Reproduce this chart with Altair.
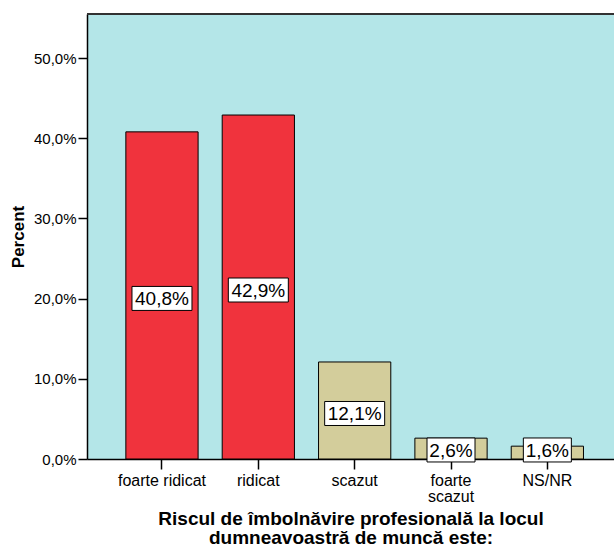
import altair as alt
import pandas as pd

# Survey answers: occupational disease risk at the workplace
categories = ["foarte ridicat", "ridicat", "scazut", "foarte scazut", "NS/NR"]
percent = [40.8, 42.9, 12.1, 2.6, 1.6]
bar_colors = ["#f0333d", "#f0333d", "#d3cd9b", "#d3cd9b", "#d3cd9b"]
y_ticks = [0, 10, 20, 30, 40, 50]

df = pd.DataFrame({"cat": categories, "pct": percent, "color": bar_colors})

FONT = "Liberation Sans"
PLOT_W, PLOT_H = 527, 445

x_enc = alt.X(
    "cat:N",
    sort=categories,
    scale=alt.Scale(paddingInner=0.25, paddingOuter=0.36, align=0.56),
    axis=alt.Axis(
        title=["Riscul de îmbolnăvire profesională la locul",
               "dumneavoastră de muncă este:"],
        titleFont=FONT, titleFontSize=19, titleFontWeight="bold",
        titleColor="black", titleLineHeight=19,
        titleBaseline="top", titleY=50, titleX=PLOT_W / 2,
        labelExpr="datum.value == 'foarte scazut' ? ['foarte', 'scazut'] : datum.value",
        labelAngle=0, labelFont=FONT, labelFontSize=16, labelColor="black",
        labelBaseline="top", labelLineHeight=16, labelPadding=3,
        tickSize=10, tickColor="black", tickWidth=1.5,
        domainColor="black", domainWidth=1.5,
    ),
)

y_enc = alt.Y(
    "pct:Q",
    scale=alt.Scale(domain=[0, 55.5], nice=False),
    axis=alt.Axis(
        values=y_ticks,
        labelExpr="replace(format(datum.value, '.1f'), '.', ',') + '%'",
        grid=False,
        labelFont=FONT, labelFontSize=15, labelColor="black", labelPadding=2,
        tickSize=9, tickColor="black", tickWidth=1.5,
        domainColor="black", domainWidth=1.5,
        title="Percent", titleFont=FONT, titleFontSize=17,
        titleFontWeight="bold", titleColor="black",
        titleAngle=270, titleX=-69, titleY=PLOT_H / 2,
        titleBaseline="middle", titleAlign="center",
    ),
)

base = alt.Chart(df)

bars = base.mark_bar(stroke="black", strokeWidth=1).encode(
    x=x_enc,
    y=y_enc,
    color=alt.Color("color:N", scale=None),
)

labelled = base.transform_calculate(
    label="replace(format(datum.pct, '.1f'), '.', ',') + '%'",
    mid="max(datum.pct / 2, 1.5)",
)

box_wide = labelled.transform_filter("length(datum.label) >= 5").mark_rect(
    width=60, height=24, fill="white", stroke="black", strokeWidth=1, yOffset=3
).encode(x=alt.X("cat:N", sort=categories), y=alt.Y("mid:Q"))

box_narrow = labelled.transform_filter("length(datum.label) < 5").mark_rect(
    width=48, height=24, fill="white", stroke="black", strokeWidth=1, yOffset=3
).encode(x=alt.X("cat:N", sort=categories), y=alt.Y("mid:Q"))

texts = labelled.mark_text(
    font=FONT, fontSize=19, color="black", baseline="middle", dy=4
).encode(x=alt.X("cat:N", sort=categories), y=alt.Y("mid:Q"), text="label:N")

top_border = alt.Chart(df).mark_rule(color="#333333", strokeWidth=1.5).encode(
    x=alt.value(0), x2=alt.value(PLOT_W), y=alt.value(0)
)

chart = (
    alt.layer(bars, box_wide, box_narrow, texts, top_border)
    .properties(
        width=PLOT_W,
        height=PLOT_H,
        autosize=alt.AutoSizeParams(type="none"),
        padding={"left": 87, "top": 14, "right": 0, "bottom": 88},
        background="white",
    )
    .configure_view(fill="#b4e6e8", stroke=None)
)

chart.save("out.html", embed_options={"renderer": "svg", "actions": False})
